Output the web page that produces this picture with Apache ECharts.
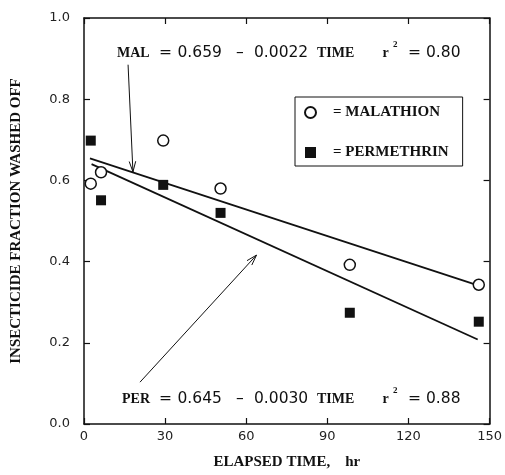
<!DOCTYPE html>
<html>
<head>
<meta charset="utf-8">
<script src="https://cdn.jsdelivr.net/npm/echarts@6/dist/echarts.min.js"></script>
<style>
html,body{margin:0;padding:0;background:#fff;}
#main{width:505px;height:475px;}
</style>
</head>
<body>
<div id="main"></div>
<script>
// ---- data ----
const malathionPoints = [[2.5, 0.592], [6.3, 0.620], [29.3, 0.698], [50.5, 0.580], [98.3, 0.392], [146, 0.343]];
const permethrinPoints = [[2.5, 0.698], [6.3, 0.551], [29.3, 0.589], [50.5, 0.520], [98.3, 0.274], [146, 0.252]];
const malFitLine = [[2.2, 0.654], [146, 0.341]];
const perFitLine = [[2.8, 0.640], [145.6, 0.208]];
// arrows: [fromX, fromY, toX, toY] in data units
const malArrow = [[16.3, 0.885, 18.1, 0.621]];
const perArrow = [[20.7, 0.103, 63.8, 0.416]];
const xTicks = [0, 30, 60, 90, 120, 150];
const yTicks = [0.0, 0.2, 0.4, 0.6, 0.8, 1.0];
const seriesNames = ['MALATHION', 'PERMETHRIN'];
const malEquation = ['MAL', '0.659', '0.0022', '0.80'];
const perEquation = ['PER', '0.645', '0.0030', '0.88'];

const SERIF = '"Liberation Serif", "DejaVu Serif", serif';
const SANS = '"DejaVu Sans", "Liberation Sans", sans-serif';

const chart = echarts.init(document.getElementById('main'), null, {renderer: 'canvas'});

function arrowRender(params, api) {
  const p0 = api.coord([api.value(0), api.value(1)]);
  const p1 = api.coord([api.value(2), api.value(3)]);
  const ang = Math.atan2(p1[1] - p0[1], p1[0] - p0[0]);
  const L = 11, a = 0.3;
  const h1 = [p1[0] - L * Math.cos(ang - a), p1[1] - L * Math.sin(ang - a)];
  const h2 = [p1[0] - L * Math.cos(ang + a), p1[1] - L * Math.sin(ang + a)];
  return {
    type: 'group',
    children: [
      {type: 'polyline', shape: {points: [p0, p1]}, style: {stroke: '#111', lineWidth: 1, fill: null}},
      {type: 'polyline', shape: {points: [h1, p1, h2]}, style: {stroke: '#111', lineWidth: 1, fill: null}}
    ]
  };
}

// equation annotation laid out token by token
function equation(e, labelX, cy) {
  const bold = {fontFamily: SERIF, fontWeight: 'bold', fontSize: 14, fill: '#111'};
  const num = {fontFamily: SANS, fontSize: 15.5, fill: '#111'};
  const parts = [
    [labelX, e[0], bold],
    [159, '=', num],
    [177.5, e[1], num],
    [236, '\u2013', num],
    [254, e[2], num],
    [317, 'TIME', bold],
    [382.5, 'r', bold],
    [408, '=', num],
    [426, e[3], num]
  ];
  const children = parts.map(p => ({
    type: 'text', x: p[0], y: cy,
    style: Object.assign({text: p[1], verticalAlign: 'middle', align: 'left'}, p[2])
  }));
  children.push({
    type: 'text', x: 393, y: cy - 8,
    style: {text: '2', fontFamily: SERIF, fontWeight: 'bold', fontSize: 9, fill: '#111', verticalAlign: 'middle'}
  });
  return {type: 'group', children: children};
}

const axisCommon = {
  type: 'value',
  axisLine: {show: true, onZero: false, lineStyle: {color: '#111', width: 1.5}},
  axisTick: {show: true, inside: true, length: 6, lineStyle: {color: '#111', width: 1.2}},
  splitLine: {show: false}
};

chart.setOption({
  backgroundColor: '#fff',
  animation: false,
  grid: {left: 84, right: 15, top: 18, bottom: 48, containLabel: false},
  xAxis: [
    Object.assign({}, axisCommon, {
      position: 'bottom', min: xTicks[0], max: xTicks[xTicks.length - 1], interval: 30,
      axisLabel: {margin: 6, fontFamily: SANS, fontSize: 13, color: '#222'},
      name: 'ELAPSED TIME,    hr', nameLocation: 'middle', nameGap: 31,
      nameTextStyle: {fontFamily: SERIF, fontWeight: 'bold', fontSize: 15, color: '#111'}
    }),
    Object.assign({}, axisCommon, {
      position: 'top', min: xTicks[0], max: xTicks[xTicks.length - 1], interval: 30,
      axisLabel: {show: false}
    })
  ],
  yAxis: [
    Object.assign({}, axisCommon, {
      position: 'left', min: yTicks[0], max: yTicks[yTicks.length - 1], interval: 0.2,
      axisLabel: {margin: 14, fontFamily: SANS, fontSize: 13, color: '#222', formatter: v => v.toFixed(1)},
      name: 'INSECTICIDE FRACTION WASHED OFF', nameLocation: 'middle', nameGap: 60, nameRotate: 90,
      nameTextStyle: {fontFamily: SERIF, fontWeight: 'bold', fontSize: 15, color: '#111', padding: [0, 0, 0, 0]}
    }),
    Object.assign({}, axisCommon, {
      position: 'right', min: yTicks[0], max: yTicks[yTicks.length - 1], interval: 0.2,
      axisLabel: {show: false}
    })
  ],
  legend: {
    data: seriesNames,
    orient: 'vertical',
    left: 295, top: 97,
    padding: [8, 14, 6, 9],
    itemGap: 25,
    itemWidth: 11, itemHeight: 11,
    borderColor: '#111', borderWidth: 1, borderRadius: 0,
    backgroundColor: '#fff',
    formatter: n => '= ' + n,
    textStyle: {fontFamily: SERIF, fontWeight: 'bold', fontSize: 15, color: '#111', padding: [0, 0, 0, 12]},
    selectedMode: false
  },
  series: [
    {
      name: seriesNames[0], type: 'scatter', data: malathionPoints,
      symbol: 'circle', symbolSize: 11,
      itemStyle: {color: '#fff', borderColor: '#111', borderWidth: 1.5, opacity: 1},
      z: 5
    },
    {
      name: seriesNames[1], type: 'scatter', data: permethrinPoints,
      symbol: 'rect', symbolSize: 10,
      itemStyle: {color: '#111', opacity: 1},
      z: 5
    },
    {
      name: 'malFit', type: 'line', data: malFitLine, symbol: 'none',
      lineStyle: {color: '#111', width: 1.8}, z: 3
    },
    {
      name: 'perFit', type: 'line', data: perFitLine, symbol: 'none',
      lineStyle: {color: '#111', width: 1.8}, z: 3
    },
    {
      name: 'malArrow', type: 'custom', data: malArrow, renderItem: arrowRender, z: 4, silent: true
    },
    {
      name: 'perArrow', type: 'custom', data: perArrow, renderItem: arrowRender, z: 4, silent: true
    }
  ],
  graphic: [
    equation(malEquation, 117, 53),
    equation(perEquation, 122, 399)
  ]
});
</script>
</body>
</html>
